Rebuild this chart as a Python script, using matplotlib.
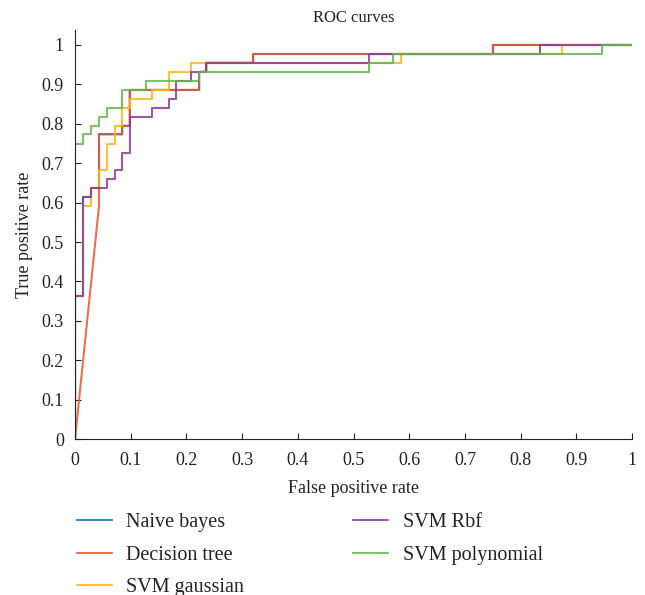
import matplotlib
matplotlib.use("Agg")
import matplotlib.pyplot as plt

plt.rcParams['font.family'] = ['Liberation Serif', 'DejaVu Serif']

# ROC curve vertices (fpr, tpr)
nb_fpr = [0, 0, 0.015, 0.015, 0.029, 0.029, 0.043, 0.043, 0.085, 0.085, 0.098, 0.098,
          0.223, 0.223, 0.236, 0.236, 0.32, 0.32, 0.75, 0.75, 1]
nb_tpr = [0, 0.364, 0.364, 0.614, 0.614, 0.636, 0.636, 0.773, 0.773, 0.795, 0.795, 0.886,
          0.886, 0.932, 0.932, 0.955, 0.955, 0.977, 0.977, 1, 1]

dt_fpr = [0, 0.043, 0.043, 0.085, 0.085, 0.098, 0.098, 0.223, 0.223, 0.236, 0.236,
          0.32, 0.32, 0.75, 0.75, 1]
dt_tpr = [0, 0.591, 0.773, 0.773, 0.795, 0.795, 0.886, 0.886, 0.932, 0.932, 0.955,
          0.955, 0.977, 0.977, 1, 1]

sg_fpr = [0, 0, 0.015, 0.015, 0.029, 0.029, 0.043, 0.043, 0.057, 0.057, 0.071, 0.071,
          0.085, 0.085, 0.098, 0.098, 0.139, 0.139, 0.168, 0.168, 0.209, 0.209,
          0.585, 0.585, 0.875, 0.875, 1]
sg_tpr = [0, 0.364, 0.364, 0.591, 0.591, 0.636, 0.636, 0.682, 0.682, 0.75, 0.75, 0.795,
          0.795, 0.841, 0.841, 0.864, 0.864, 0.886, 0.886, 0.932, 0.932, 0.955,
          0.955, 0.977, 0.977, 1, 1]

rbf_fpr = [0, 0, 0.015, 0.015, 0.029, 0.029, 0.057, 0.057, 0.071, 0.071, 0.085, 0.085,
           0.098, 0.098, 0.139, 0.139, 0.168, 0.168, 0.181, 0.181, 0.209, 0.209,
           0.236, 0.236, 0.528, 0.528, 0.835, 0.835, 1]
rbf_tpr = [0, 0.364, 0.364, 0.614, 0.614, 0.636, 0.636, 0.659, 0.659, 0.682, 0.682, 0.727,
           0.727, 0.818, 0.818, 0.841, 0.841, 0.864, 0.864, 0.909, 0.909, 0.932,
           0.932, 0.955, 0.955, 0.977, 0.977, 1, 1]

poly_fpr = [0, 0, 0.015, 0.015, 0.029, 0.029, 0.043, 0.043, 0.057, 0.057, 0.085, 0.085,
            0.127, 0.127, 0.223, 0.223, 0.528, 0.528, 0.57, 0.57, 0.946, 0.946, 1]
poly_tpr = [0, 0.75, 0.75, 0.773, 0.773, 0.795, 0.795, 0.818, 0.818, 0.841, 0.841, 0.886,
            0.886, 0.909, 0.909, 0.932, 0.932, 0.955, 0.955, 0.977, 0.977, 1, 1]

labels = ['Naive bayes', 'Decision tree', 'SVM gaussian', 'SVM Rbf', 'SVM polynomial']
colors = ['#0072BD', '#E9572A', '#FDB515', '#8B3A9A', '#64B550']
curves = [(nb_fpr, nb_tpr), (dt_fpr, dt_tpr), (sg_fpr, sg_tpr),
          (rbf_fpr, rbf_tpr), (poly_fpr, poly_tpr)]

fig = plt.figure(figsize=(6.45, 5.95), dpi=100)
ax = fig.add_axes([0.1163, 0.262, 0.8637, 0.6876])

handles = []
for (fx, fy), c, lab in zip(curves, colors, labels):
    h, = ax.plot(fx, fy, color=c, lw=1.5, alpha=0.85, label=lab)
    handles.append(h)

ax.set_xlim(0, 1)
ax.set_ylim(0, 1.038)
ticks = [i / 10 for i in range(11)]
ticklabels = ['0'] + ['%.1f' % t for t in ticks[1:-1]] + ['1']
ax.set_xticks(ticks)
ax.set_xticklabels(ticklabels)
ax.set_yticks(ticks)
ax.set_yticklabels(ticklabels)
ax.tick_params(direction='in', length=4.5, labelsize=13, colors='#222222')
ax.tick_params(axis='x', pad=9)
ax.tick_params(axis='y', pad=8)
for s in ['top', 'right']:
    ax.spines[s].set_visible(False)
for s in ['left', 'bottom']:
    ax.spines[s].set_color('#222222')
ax.set_xlabel('False positive rate', fontsize=13, color='#222222', labelpad=8)
ax.set_ylabel('True positive rate', fontsize=13, color='#222222', labelpad=6)
ax.set_title('ROC curves', fontsize=12, color='#222222', pad=6)

leg = fig.legend(handles=handles, labels=labels, loc='upper left',
                 bbox_to_anchor=(0.0907, 0.168), ncol=2, frameon=False,
                 fontsize=14.5, handlelength=1.75, handletextpad=0.72,
                 columnspacing=5.4, labelspacing=0.66)
for line in leg.get_lines():
    line.set_linewidth(1.2)
    line.set_alpha(1)
for t in leg.get_texts():
    t.set_color('#222222')

fig.savefig('out.png', dpi=100)
